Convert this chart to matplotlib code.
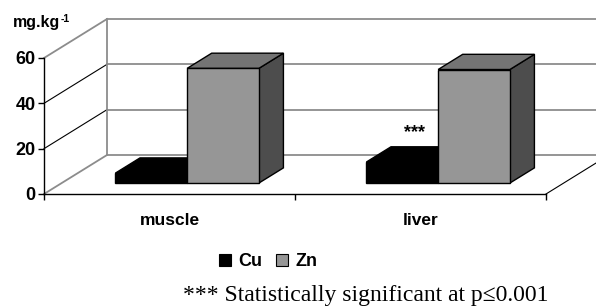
import matplotlib
matplotlib.use("Agg")
import matplotlib.pyplot as plt
from matplotlib.patches import Polygon, Patch

# data
categories = ["muscle", "liver"]
series = ["Cu", "Zn"]
cu_values = [4.4, 9.3]
zn_values = [50.6, 50.1]
y_ticks = [0, 20, 40, 60]
signif_label = "***"
footnote = "*** Statistically significant at p\u22640.001"

W, H = 596, 307
fig = plt.figure(figsize=(W / 100, H / 100), dpi=100)
ax = fig.add_axes([44 / W, 1 - 194 / H, 502 / W, 136 / H])
ax.set_xlim(0, len(categories))
ax.set_ylim(0, 60)

# oblique "3d" depth in data units (full depth of the floor)
DX = 63 / 251
DY = 39 * 60 / 136


def p(x, v, f):
    return (x + f * DX, v + f * DY)


def line(a, b, **kw):
    ax.plot([a[0], b[0]], [a[1], b[1]], clip_on=False, **kw)


grey = '#8c8c8c'
xmax = len(categories)

# back wall and side wall
for v in y_ticks:
    line(p(0, v, 1), p(xmax, v, 1), color=grey, lw=1.3, zorder=1)
    if v in (0, y_ticks[-1]):
        line(p(0, v, 0), p(0, v, 1), color=grey, lw=1.3, zorder=1)
    else:
        line(p(0, v, 0), p(0, v, 1), color='black', lw=0.8, zorder=1)
line(p(0, 0, 1), p(0, y_ticks[-1], 1), color=grey, lw=1.3, zorder=1)
line(p(xmax, 0, 0), p(xmax, 0, 1), color='black', lw=0.8, zorder=1)

# bars
w = 1 / 3.5
f1, f2 = 0.28, 0.67
styles = [
    dict(front='black', top='black', side='black'),
    dict(front='#969696', top='#747474', side='#4d4d4d'),
]
for i in range(len(categories)):
    for j, vals in enumerate([cu_values, zn_values]):
        v = vals[i]
        x0 = i + 0.5 - w + j * w
        x1 = x0 + w
        st = styles[j]
        z = 3 + i * 2 + j
        side = [p(x1, 0, f1), p(x1, v, f1), p(x1, v, f2), p(x1, 0, f2)]
        top = [p(x0, v, f1), p(x1, v, f1), p(x1, v, f2), p(x0, v, f2)]
        front = [p(x0, 0, f1), p(x1, 0, f1), p(x1, v, f1), p(x0, v, f1)]
        for pts, c in [(side, st['side']), (top, st['top']), (front, st['front'])]:
            ax.add_patch(Polygon(pts, closed=True, facecolor=c, edgecolor='black',
                                 lw=1, clip_on=False, zorder=z))

# significance mark over liver Cu
fm = (f1 + f2) / 2
ax.annotate(signif_label, xy=p(1 + 0.5 - w / 2, cu_values[1], fm),
            xytext=(0, 22), textcoords='offset pixels', ha='center', va='center',
            fontsize=13, fontweight='bold', family='Liberation Sans', zorder=10)

# front axes
for s in ['top', 'right']:
    ax.spines[s].set_visible(False)
for s in ['left', 'bottom']:
    ax.spines[s].set_color('black')
    ax.spines[s].set_linewidth(1)
    ax.spines[s].set_zorder(8)
ax.set_facecolor('none')
ax.set_yticks(y_ticks)
ax.set_yticklabels([str(t) for t in y_ticks], fontsize=13, fontweight='bold',
                   family='Liberation Sans')
ax.tick_params(axis='y', direction='out', length=4, width=1, pad=2)
ax.set_xticks(range(len(categories) + 1))
ax.set_xticklabels([])
ax.tick_params(axis='x', which='major', direction='out', length=4, width=1)
ax.set_xticks([i + 0.5 for i in range(len(categories))], minor=True)
ax.set_xticklabels(categories, minor=True, fontsize=12.5, fontweight='bold',
                   family='Liberation Sans')
ax.tick_params(axis='x', which='minor', length=0, pad=14)

unit = fig.text(13 / W, 1 - 22 / H, 'mg.kg', fontsize=11.5, fontweight='bold',
                family='Liberation Sans', ha='left', va='center')
ax.annotate('-1', xy=(1, 1), xycoords=unit, xytext=(0, 1), textcoords='offset pixels',
            ha='left', va='top', fontsize=7.5, fontweight='bold',
            family='Liberation Sans', annotation_clip=False)

handles = [Patch(facecolor='black', edgecolor='black', lw=0.8),
           Patch(facecolor='#969696', edgecolor='black', lw=0.8)]
fig.legend(handles, series, loc='center', bbox_to_anchor=(268 / W, 1 - 262 / H),
           ncol=2, frameon=False, handlelength=0.68, handleheight=0.68,
           handletextpad=0.4, columnspacing=0.75,
           prop=dict(family='Liberation Sans', weight='bold', size=13))

fig.text(366 / W, 1 - 295 / H, footnote, family='Liberation Serif', fontsize=17,
         ha='center', va='center')

fig.savefig('out.png', dpi=100)
